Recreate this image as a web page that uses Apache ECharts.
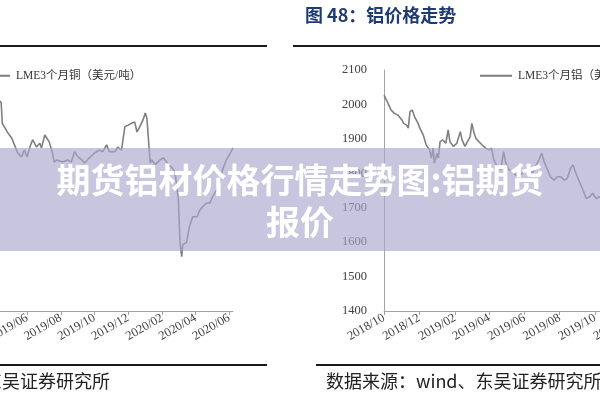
<!DOCTYPE html>
<html lang="zh-CN">
<head>
    <meta charset="UTF-8">
    <title>期货铝材价格行情走势图:铝期货报价</title>
    <script src="https://cdn.jsdelivr.net/npm/echarts@6/dist/echarts.min.js"></script>
    <style>
        html, body {margin: 0; padding: 0; background: #fff; overflow: hidden;}
        #main {width: 600px; height: 400px;}
    </style>
</head>
<body>
<div id="main"></div>
<script>
    // LME3个月铜（美元/吨）
    var cuDates = ['2019-04-11', '2019-04-15', '2019-04-17', '2019-04-26', '2019-05-04', '2019-05-09', '2019-05-15',
        '2019-05-22', '2019-05-27', '2019-06-01', '2019-06-06', '2019-06-11', '2019-06-18', '2019-06-24', '2019-06-27',
        '2019-07-03', '2019-07-11', '2019-07-17', '2019-07-20', '2019-07-25', '2019-08-04', '2019-08-13', '2019-08-20',
        '2019-08-26', '2019-09-01', '2019-09-08', '2019-09-13', '2019-09-22', '2019-10-01', '2019-10-10', '2019-10-16',
        '2019-10-23', '2019-10-28', '2019-11-07', '2019-11-12', '2019-11-19', '2019-11-25', '2019-12-01', '2019-12-08',
        '2019-12-13', '2019-12-17', '2019-12-22', '2019-12-28', '2020-01-01', '2020-01-04', '2020-01-10', '2020-01-13',
        '2020-01-19', '2020-01-28', '2020-02-03', '2020-02-10', '2020-02-19', '2020-02-24', '2020-03-01', '2020-03-04',
        '2020-03-07', '2020-03-09', '2020-03-16', '2020-03-21', '2020-03-27', '2020-04-04', '2020-04-09', '2020-04-14',
        '2020-04-21', '2020-04-27', '2020-05-02', '2020-05-09', '2020-05-15', '2020-05-20', '2020-05-27', '2020-06-03',
        '2020-06-08'];
    var cuValues = [6450, 6420, 6180, 6080, 6010, 5930, 5835,
        5790, 5870, 5790, 5905, 5990, 5905, 5950, 5895,
        6045, 5965, 5835, 5730, 5755, 5730, 5755, 5730,
        5850, 5790, 5755, 5720, 5780, 5835, 5870, 5850,
        5930, 5850, 5850, 5905, 5870, 6140, 6160, 6185,
        6195, 6080, 6140, 6220, 6300, 6240, 5720, 5755,
        5700, 5755, 5780, 5720, 5660, 5615, 5290, 4790,
        4630, 4770, 4800, 4980, 5095, 5095, 5175, 5210,
        5255, 5255, 5325, 5405, 5490, 5640, 5755, 5835,
        5895];

    // LME3个月铝（美元/吨）
    var alDates = ['2018-10-01', '2018-10-05', '2018-10-08', '2018-10-10', '2018-10-13', '2018-10-16', '2018-10-19',
        '2018-10-25', '2018-11-01', '2018-11-04', '2018-11-09', '2018-11-12', '2018-11-15', '2018-11-19', '2018-11-23',
        '2018-11-29', '2018-12-02', '2018-12-08', '2018-12-13', '2018-12-19', '2018-12-22', '2018-12-25', '2018-12-27',
        '2019-01-01', '2019-01-03', '2019-01-06', '2019-01-11', '2019-01-16', '2019-01-20', '2019-01-23', '2019-01-29',
        '2019-02-04', '2019-02-10', '2019-02-13', '2019-02-18', '2019-02-24', '2019-02-27', '2019-03-02', '2019-03-06',
        '2019-03-09', '2019-03-14', '2019-03-20', '2019-03-26', '2019-04-01', '2019-04-05', '2019-04-09', '2019-04-15',
        '2019-04-21', '2019-04-26', '2019-04-29', '2019-05-05', '2019-05-11', '2019-05-17', '2019-05-22', '2019-05-28',
        '2019-06-04', '2019-06-09', '2019-06-15', '2019-06-20', '2019-06-26', '2019-07-01', '2019-07-05', '2019-07-11',
        '2019-07-16', '2019-07-22', '2019-07-28', '2019-08-03', '2019-08-09', '2019-08-14', '2019-08-20', '2019-08-24',
        '2019-08-29', '2019-09-04', '2019-09-10', '2019-09-16', '2019-09-22', '2019-09-27', '2019-10-03', '2019-10-09',
        '2019-10-15'];
    var alValues = [2027, 2013, 2003, 1998, 1984, 1989, 1974,
        1969, 1955, 1945, 1940, 1931, 1979, 1984, 1964,
        1945, 1931, 1911, 1882, 1868, 1844, 1873, 1829,
        1858, 1844, 1892, 1897, 1887, 1926, 1892, 1878,
        1887, 1921, 1897, 1878, 1897, 1906, 1945, 1916,
        1902, 1892, 1882, 1873, 1868, 1873, 1839, 1819,
        1810, 1863, 1834, 1810, 1805, 1795, 1790, 1800,
        1810, 1819, 1800, 1819, 1839, 1858, 1834, 1810,
        1790, 1780, 1790, 1790, 1780, 1785, 1815, 1824,
        1800, 1776, 1752, 1727, 1732, 1742, 1727, 1732,
        1725];

    // 横轴刻度（两个月一格）
    var tickLabels = ['2018/10', '2018/12', '2019/02', '2019/04', '2019/06', '2019/08', '2019/10', '2019/12',
        '2020/02', '2020/04', '2020/06'];

    function toTime(s) {
        var p = s.split(/[-\/]/);
        return new Date(+p[0], +p[1] - 1, p[2] ? +p[2] : 1).getTime();
    }

    function pair(dates, values) {
        var res = [];
        for (var i = 0; i < dates.length; i++) {
            res.push([toTime(dates[i]), values[i]]);
        }
        return res;
    }

    var ticks = tickLabels.map(toTime);
    var xMin = toTime('2018-10-01');
    var xMax = toTime('2020-06-08');
    var axisGray = '#a3a3a3';
    var serif = "'Liberation Serif', 'Noto Sans CJK SC', serif";

    // 用数值轴放时间戳，刻度只放在每两个月的月初
    function xAxisOf(idx) {
        return {
            type: 'value',
            gridIndex: idx,
            min: xMin,
            max: xMax,
            axisLine: {lineStyle: {color: axisGray, width: 1}},
            axisTick: {show: true, length: 4, lineStyle: {color: axisGray}, customValues: ticks},
            splitLine: {show: false},
            axisLabel: {
                customValues: ticks,
                rotate: 30,
                margin: 6,
                fontFamily: serif,
                fontSize: 12.5,
                color: '#404040',
                formatter: function (v) {
                    var i = ticks.indexOf(v);
                    return i >= 0 ? tickLabels[i] : '';
                }
            }
        };
    }

    var legendBase = {
        padding: 0,
        icon: 'rect',
        itemWidth: 32, itemHeight: 2, itemGap: 10,
        textStyle: {fontFamily: serif, fontSize: 11.5, color: '#333', padding: [0, 0, 0, 1]}
    };

    var myChart = echarts.init(document.getElementById('main'));
    myChart.setOption({
        animation: false,
        backgroundColor: '#fff',
        grid: [
            {left: -107, right: 367, top: 70, bottom: 89, outerBoundsMode: 'none'},
            {left: 384, right: -140, top: 70, bottom: 89, outerBoundsMode: 'none'}
        ],
        legend: [
            Object.assign({data: ['LME3个月铜（美元/吨）'], left: -22, top: 70}, legendBase),
            Object.assign({data: ['LME3个月铝（美元/吨）'], left: 480, top: 70}, legendBase)
        ],
        xAxis: [xAxisOf(0), xAxisOf(1)],
        yAxis: [
            {
                type: 'value', gridIndex: 0, min: 4000, max: 6800,
                axisLine: {show: true, lineStyle: {color: axisGray}},
                axisTick: {show: false}, splitLine: {show: false},
                axisLabel: {show: false}
            },
            {
                type: 'value', gridIndex: 1, min: 1400, max: 2100, interval: 100,
                axisLine: {show: true, lineStyle: {color: axisGray}},
                axisTick: {show: false}, splitLine: {show: false},
                axisLabel: {
                    margin: 17, fontFamily: serif, fontSize: 12.5, color: '#404040',
                    formatter: function (v) { return String(v); }
                }
            }
        ],
        series: [
            {
                name: 'LME3个月铜（美元/吨）', type: 'line', xAxisIndex: 0, yAxisIndex: 0,
                symbol: 'none', data: pair(cuDates, cuValues),
                lineStyle: {color: '#7f7f7f', width: 1.6}, itemStyle: {color: '#7f7f7f'}
            },
            {
                name: 'LME3个月铝（美元/吨）', type: 'line', xAxisIndex: 1, yAxisIndex: 1,
                symbol: 'none', data: pair(alDates, alValues),
                lineStyle: {color: '#7f7f7f', width: 1.6}, itemStyle: {color: '#7f7f7f'}
            }
        ],
        graphic: [
            // 标题和上下黑线
            {type: 'text', left: 305, top: 6, style: {text: '图 48：铝价格走势', font: "bold 18px 'Noto Sans CJK SC'", fill: '#1f3b73'}},
            {type: 'line', shape: {x1: -10, y1: 46, x2: 267, y2: 46}, style: {stroke: '#1a1a1a', lineWidth: 2}},
            {type: 'line', shape: {x1: 293, y1: 46, x2: 610, y2: 46}, style: {stroke: '#1a1a1a', lineWidth: 2}},
            {type: 'line', shape: {x1: -10, y1: 365, x2: 267, y2: 365}, style: {stroke: '#1a1a1a', lineWidth: 2}},
            {type: 'line', shape: {x1: 316, y1: 365, x2: 610, y2: 365}, style: {stroke: '#1a1a1a', lineWidth: 2}},
            {type: 'text', x: 110, y: 381, style: {text: '数据来源：wind、东吴证券研究所', align: 'right', verticalAlign: 'middle', font: "18px 'Noto Sans CJK SC'", fill: '#222'}},
            {type: 'text', x: 326, y: 381, style: {text: '数据来源：wind、东吴证券研究所', align: 'left', verticalAlign: 'middle', font: "18px 'Noto Sans CJK SC'", fill: '#222'}},
            // 半透明横幅
            {type: 'rect', z: 100, shape: {x: 0, y: 148, width: 600, height: 103}, style: {fill: 'rgba(170,166,206,0.65)'}},
            {type: 'text', z: 101, x: 300, y: 180, style: {text: '期货铝材价格行情走势图:铝期货', align: 'center', verticalAlign: 'middle', font: "bold 34px 'Noto Sans CJK SC'", fill: '#fff', shadowBlur: 2, shadowColor: 'rgba(0,0,0,0.25)'}},
            {type: 'text', z: 101, x: 300, y: 222, style: {text: '报价', align: 'center', verticalAlign: 'middle', font: "bold 34px 'Noto Sans CJK SC'", fill: '#fff', shadowBlur: 2, shadowColor: 'rgba(0,0,0,0.25)'}}
        ]
    });
</script>
</body>
</html>
